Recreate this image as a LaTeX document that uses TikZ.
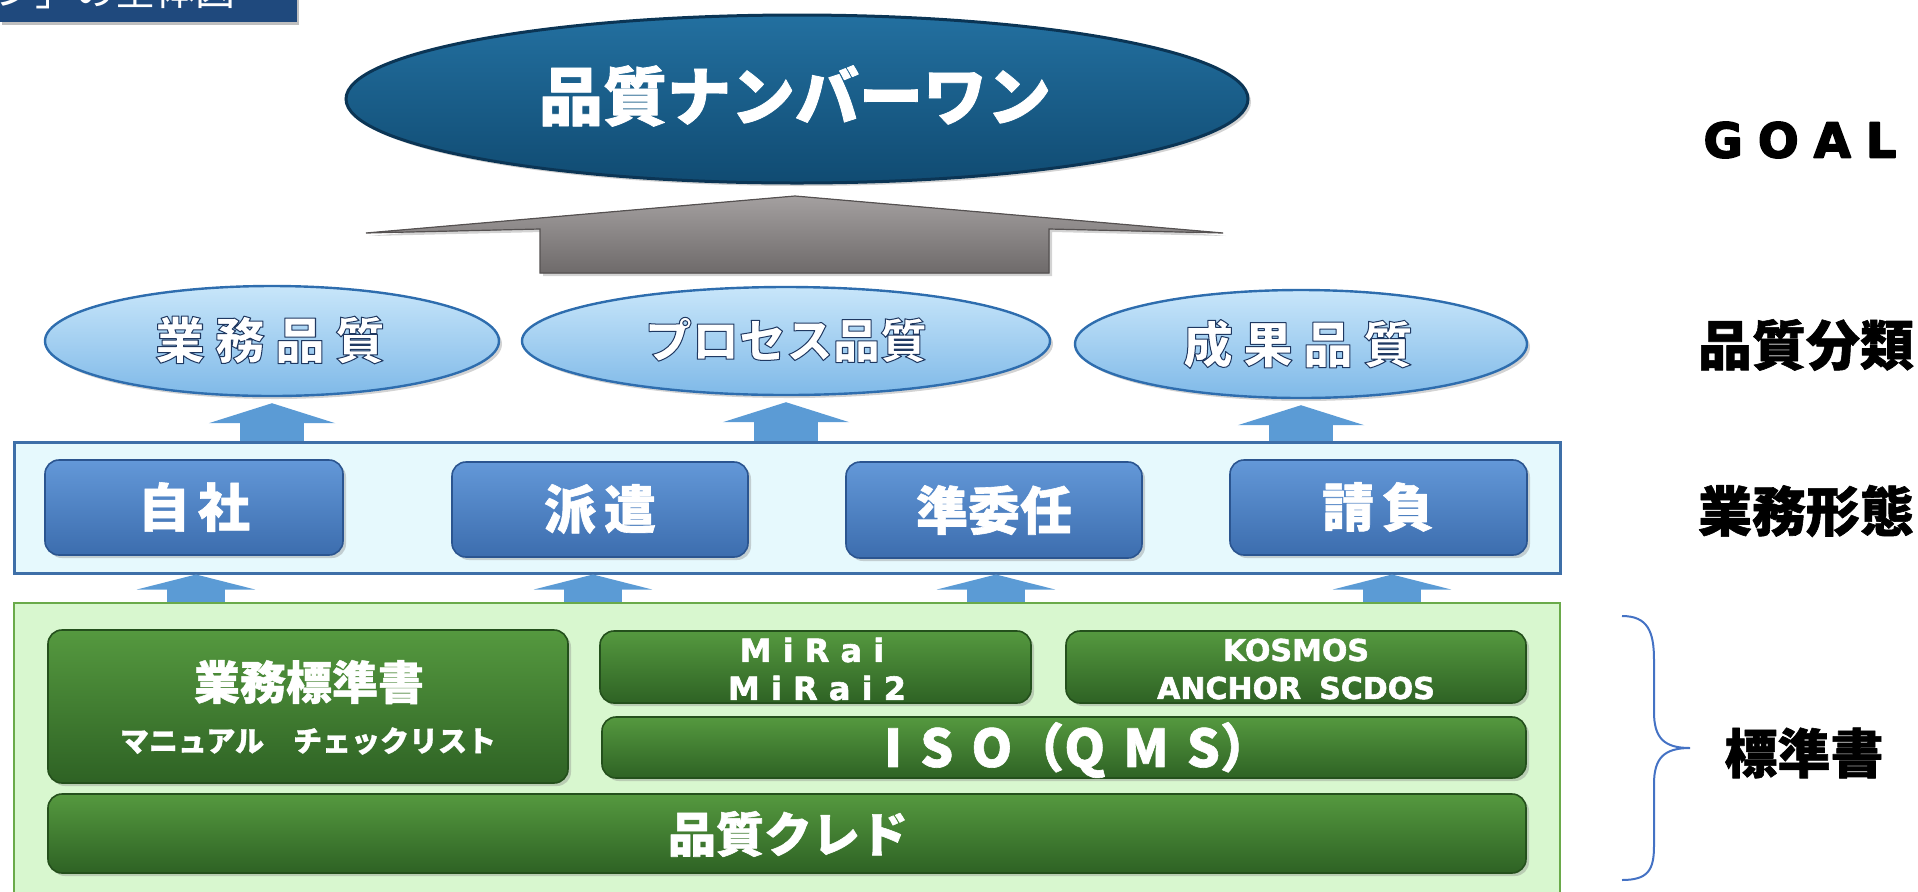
\documentclass[tikz,border=0pt]{standalone}
\usepackage{fontspec}
\setmainfont{Noto Sans CJK JP}
\newfontfamily\jp{Noto Sans CJK JP}
\IfFontExistsTF{Noto Sans CJK JP Black}{\newfontfamily\jpH{Noto Sans CJK JP Black}}{%
  \IfFontExistsTF{Noto Sans CJK JP Bold}{\newfontfamily\jpH{Noto Sans CJK JP Bold}}{\newfontfamily\jpH{Noto Sans CJK JP}}}
\newfontfamily\vd{DejaVu Sans}
\usetikzlibrary{shapes.geometric,arrows.meta,shadows}
\definecolor{titleC}{HTML}{1F497D}
\definecolor{goalT}{HTML}{2370A0}
\definecolor{goalB}{HTML}{104B72}
\definecolor{goalD}{HTML}{0B3555}
\definecolor{qT}{HTML}{C8E6FA}
\definecolor{qB}{HTML}{7FB9E8}
\definecolor{qD}{HTML}{2E6DAE}
\definecolor{bT}{HTML}{6398D8}
\definecolor{bB}{HTML}{3C6DAE}
\definecolor{bD}{HTML}{2B5590}
\definecolor{gT}{HTML}{55993F}
\definecolor{gM}{HTML}{3E7B2E}
\definecolor{gB}{HTML}{2E6224}
\definecolor{gD}{HTML}{24501C}
\definecolor{arrC}{HTML}{5B9BD5}
\definecolor{wFill}{HTML}{E6F9FD}
\definecolor{wDraw}{HTML}{3E6FA8}
\definecolor{gFill}{HTML}{D8F7CF}
\definecolor{gDraw}{HTML}{6AAA4A}
\definecolor{grT}{HTML}{A4A0A0}
\definecolor{grB}{HTML}{6E6A6A}
\definecolor{grD}{HTML}{555151}
\definecolor{braceC}{HTML}{4472C4}
\newcommand\fsz[1]{\fontsize{#1}{#1}\selectfont}
\newcommand\olon[2]{\special{pdf:literal direct #1 RG #2 w 1 j 2 Tr}}
\newcommand\oloff{\special{pdf:literal direct 0 Tr}}
\newcommand\wb{\olon{1 1 1}{0.3}}
\tikzset{
  shd/.style={drop shadow={opacity=0.35, shadow xshift=1.5pt, shadow yshift=-1.5pt}},
  goalell/.style={ellipse, inner sep=0, top color=goalT, bottom color=goalB, draw=goalD, line width=1.5pt, shd},
  qell/.style={ellipse, inner sep=0, top color=qT, bottom color=qB, draw=qD, line width=1.2pt, shd},
  bbox/.style={rectangle, rounded corners=7pt, inner sep=0, top color=bT, bottom color=bB, draw=bD, line width=0.8pt, shd},
  gbx/.style={rectangle, rounded corners=7pt, inner sep=0, top color=gT, middle color=gM, bottom color=gB, draw=gD, line width=0.8pt, shd},
  wt/.style={text=white, inner sep=0, align=center},
  rl/.style={text=black, inner sep=0},
  upA/.style={draw=arrC, line width=32pt, -{Triangle[width=63pt, length=10pt]}, arrC},
  upB/.style={draw=arrC, line width=29pt, -{Triangle[width=59pt, length=7.5pt]}, arrC},
}
\begin{document}
\begin{tikzpicture}[x=0.5pt, y=-0.5pt]
\useasboundingbox (0,0) rectangle (1918,891);
% title box (cut off at top)
\node[rectangle, fill=titleC, inner sep=0, minimum width=148.5pt, minimum height=16pt, drop shadow={opacity=0.5, shadow xshift=1pt, shadow yshift=-1.5pt}] (title) at (148.5,6) {};
\node[anchor=base east, text=white, inner sep=0, font=\jp\fsz{20pt}] (titletext) at (236,5) {ン」の全体図};
% goal
\node[goalell, minimum width=451pt, minimum height=84pt] (goal) at (797,99) {};
\node[wt, font=\jpH\fsz{32pt}] (goaltext) at (795,96) {\olon{1 1 1}{0.4}品質ナンバーワン\oloff};
% gray arrow
\coordinate (gtip) at (795,196);
\filldraw[draw=grD, line width=0.6pt, top color=grT, bottom color=grB, shd]
  (366,233) -- (gtip) -- (1223,233) -- (1049,229) -- (1049,273) -- (540,273) -- (540,229) -- cycle;
% quality ellipses
\node[qell, minimum width=227pt, minimum height=55pt] (e1) at (272,341) {};
\node[qell, minimum width=264pt, minimum height=54pt] (e2) at (786,341) {};
\node[qell, minimum width=226pt, minimum height=54pt] (e3) at (1301,344) {};
\node[wt, font=\jpH\fsz{25pt}] (e1t) at (270,340) {\olon{0.12 0.22 0.38}{0.5}業\hspace{5pt}務\hspace{5pt}品\hspace{5pt}質\oloff};
\node[wt, font=\jpH\fsz{23.5pt}] (e2t) at (786,340) {\olon{0.12 0.22 0.38}{0.5}プロセス品質\oloff};
\node[wt, font=\jpH\fsz{25pt}] (e3t) at (1298,344) {\olon{0.12 0.22 0.38}{0.5}成\hspace{5pt}果\hspace{5pt}品\hspace{5pt}質\oloff};
% business form box
\node[rectangle, fill=wFill, draw=wDraw, line width=1.5pt, inner sep=0, minimum width=773pt, minimum height=65.5pt] (wbox) at (787,507.5) {};
\node[bbox, minimum width=149pt, minimum height=47.5pt] (b1) at (194,507.5) {};
\node[bbox, minimum width=148pt, minimum height=47.5pt] (b2) at (600,509.5) {};
\node[bbox, minimum width=148pt, minimum height=48pt] (b3) at (994,510) {};
\node[bbox, minimum width=148.5pt, minimum height=47.5pt] (b4) at (1378.5,507.5) {};
\node[wt, font=\jpH\fsz{26pt}] (b1t) at (194,507) {\wb 自\hspace{4pt}社\oloff};
\node[wt, font=\jpH\fsz{26pt}] (b2t) at (600,509) {\wb 派\hspace{4pt}遣\oloff};
\node[wt, font=\jpH\fsz{26pt}] (b3t) at (994,510) {\wb 準委任\oloff};
\node[wt, font=\jpH\fsz{26pt}] (b4t) at (1378,507) {\wb 請\hspace{4pt}負\oloff};
% upper arrows
\draw[upA, shorten >=3pt] (wbox.north -| e1) -- (e1.south);
\draw[upA, shorten >=3pt] (wbox.north -| e2) -- (e2.south);
\draw[upA, shorten >=3pt] (wbox.north -| e3) -- (e3.south);
% standards box
\node[rectangle, fill=gFill, draw=gDraw, line width=1pt, inner sep=0, minimum width=773pt, minimum height=157pt] (gbox) at (787,760) {};
% lower arrows
\coordinate (a1) at (196,0);
\coordinate (a2) at (593,0);
\coordinate (a3) at (996,0);
\coordinate (a4) at (1392,0);
\draw[upB] (gbox.north -| a1) -- (wbox.south -| a1);
\draw[upB] (gbox.north -| a2) -- (wbox.south -| a2);
\draw[upB] (gbox.north -| a3) -- (wbox.south -| a3);
\draw[upB] (gbox.north -| a4) -- (wbox.south -| a4);
% green boxes
\node[gbx, minimum width=260pt, minimum height=76.5pt] (g1) at (308,706.5) {};
\node[gbx, minimum width=215.5pt, minimum height=36pt] (g2) at (815.5,667) {};
\node[gbx, minimum width=230pt, minimum height=36pt] (g3) at (1296,667) {};
\node[gbx, minimum width=462pt, minimum height=30.5pt] (g4) at (1064,747.5) {};
\node[gbx, minimum width=739pt, minimum height=39.5pt] (g5) at (787,833.5) {};
\node[wt, font=\jpH\fsz{23pt}] (g1t) at (309,682) {\olon{1 1 1}{0.2}業務標準書\oloff};
\node[wt, font=\jpH\fsz{14.5pt}] (g1s) at (308,741) {\olon{1 1 1}{0.15}マニュアル　チェックリスト\oloff};
\node[wt, font=\vd\bfseries\fsz{16pt}] (g2a) at (812,650) {\olon{1 1 1}{0.3}M i R a i\oloff};
\node[wt, font=\vd\bfseries\fsz{16pt}] (g2b) at (817,688) {\olon{1 1 1}{0.3}M i R a i 2\oloff};
\node[wt, font=\vd\bfseries\fsz{15pt}] (g3a) at (1296,650) {\olon{1 1 1}{0.3}KOSMOS\oloff};
\node[wt, font=\vd\bfseries\fsz{15pt}] (g3b) at (1296,688) {\olon{1 1 1}{0.3}ANCHOR\hspace{9pt}SCDOS\oloff};
\node[wt, font=\jpH\fsz{26pt}] (g4t) at (1078,750) {\wb I\hspace{9pt}S\hspace{9pt}O（Q\hspace{9pt}M\hspace{9pt}S）\oloff};
\node[wt, font=\jpH\fsz{24pt}] (g5t) at (788,834) {\wb 品質クレド\oloff};
% right labels
\node[rl, font=\vd\bfseries\fsz{24pt}] (lgoal) at (1800,140) {\olon{0 0 0}{0.8}G\hspace{7.5pt}O\hspace{7.5pt}A\hspace{7.5pt}L\oloff};
\node[rl, font=\jpH\fsz{27pt}] (lq) at (1806,345) {\olon{0 0 0}{0.3}品質分類\oloff};
\node[rl, font=\jpH\fsz{27pt}] (lw) at (1806,511) {\olon{0 0 0}{0.3}業務形態\oloff};
\node[rl, font=\jpH\fsz{26.5pt}] (ls) at (1804,753) {\olon{0 0 0}{0.3}標準書\oloff};
% brace
\coordinate (brtop) at (1622,616);
\coordinate (brtip) at (1690,748);
\coordinate (brbot) at (1622,880);
\draw[braceC, line width=1pt] (brtop) .. controls (1648,616) and (1654,632) .. (1654,660) -- (1654,712)
  .. controls (1654,738) and (1664,748) .. (brtip)
  .. controls (1664,748) and (1654,758) .. (1654,784) -- (1654,846)
  .. controls (1654,870) and (1648,880) .. (brbot);
\end{tikzpicture}
\end{document}
